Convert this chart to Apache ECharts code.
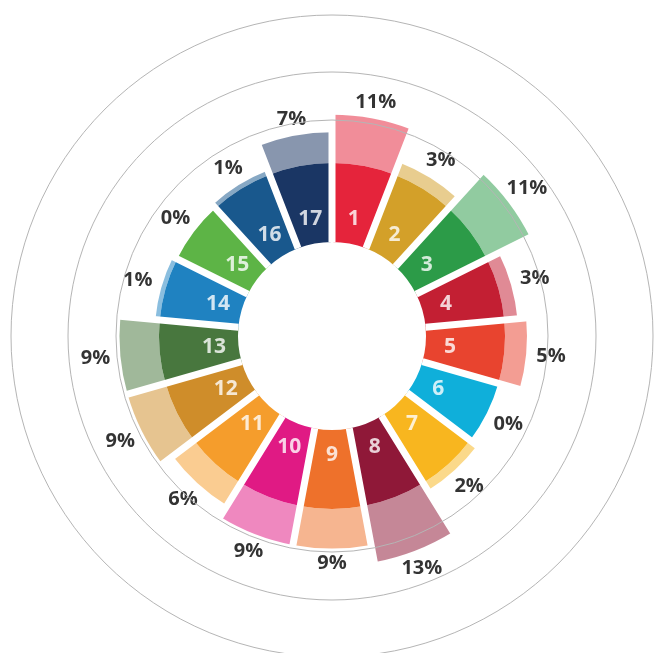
<!DOCTYPE html>
<html>
<head>
<meta charset="utf-8">
<script src="https://cdn.jsdelivr.net/npm/echarts@6/dist/echarts.min.js"></script>
<style>
    html, body { margin: 0; padding: 0; background: #fff; }
    #main { width: 660px; height: 653px; }
</style>
</head>
<body>
<div id="main"></div>
<script>
    // SDG goals, clockwise from 12 o'clock
    var goals = ['1', '2', '3', '4', '5', '6', '7', '8', '9', '10', '11', '12', '13', '14', '15', '16', '17'];
    // share per goal (%)
    var shares = [11, 3, 11, 3, 5, 0, 2, 13, 9, 9, 6, 9, 9, 1, 0, 1, 7];
    var goalColors = ['#E5243B', '#D3A029', '#2C9B48', '#C31F33', '#E8442F', '#0FAFDA', '#F8B61F', '#8F1838',
        '#EE712B', '#E01A84', '#F59D2C', '#CF8D2A', '#48773E', '#1F82C1', '#5DB446', '#19588D', '#1A3664'];

    // layout of the ring
    var cx = 332, cy = 336, innerR = 94, pxPerUnit = 4.39;
    var ringBase = 18;      // solid ring thickness, axis units
    var radiusMax = 40;
    var ringCircles = [216, 264, 321];

    var step = 360 / goals.length;

    // label points, placed through the polar scale
    var numberPoints = goals.map(function (g) { return [5.6, g]; });
    var sharePoints = goals.map(function (g, i) {
        var a = (i + 0.5) * step * Math.PI / 180;
        var gap = (15 + 10 * Math.abs(Math.sin(a))) / pxPerUnit;
        return { value: [ringBase + shares[i] + gap, g], share: shares[i] };
    });

    var myChart = echarts.init(document.getElementById('main'));
    myChart.setOption({
        animation: false,
        backgroundColor: '#fff',
        polar: {
            center: [cx, cy],
            radius: [innerR, innerR + radiusMax * pxPerUnit]
        },
        angleAxis: {
            type: 'category',
            data: goals,
            startAngle: 90,
            clockwise: true,
            z: 10,
            axisLine: { show: false },
            axisTick: { show: false, interval: 0 },
            axisLabel: { show: false, interval: 0 },
            splitLine: { show: true, interval: 0, lineStyle: { color: '#fff', width: 7 } }
        },
        radiusAxis: {
            type: 'value',
            min: 0,
            max: radiusMax,
            axisLine: { show: false },
            axisTick: { show: false },
            axisLabel: { show: false },
            splitLine: { show: false }
        },
        graphic: ringCircles.map(function (r) {
            return {
                type: 'circle',
                z: 100,
                silent: true,
                shape: { cx: cx, cy: cy, r: r },
                style: { fill: 'none', stroke: '#b5b5b5', lineWidth: 1 }
            };
        }),
        series: [
            {
                name: 'ring',
                type: 'bar',
                coordinateSystem: 'polar',
                stack: 'goal',
                barCategoryGap: '0%',
                data: goals.map(function (g, i) {
                    return { value: ringBase, itemStyle: { color: goalColors[i] } };
                })
            },
            {
                name: 'share',
                type: 'bar',
                coordinateSystem: 'polar',
                stack: 'goal',
                barCategoryGap: '0%',
                data: shares.map(function (v, i) {
                    return { value: v, itemStyle: { color: goalColors[i], opacity: 0.52 } };
                })
            },
            {
                name: 'numbers',
                type: 'scatter',
                coordinateSystem: 'polar',
                symbolSize: 1,
                itemStyle: { color: 'rgba(0,0,0,0)' },
                label: {
                    show: true,
                    position: 'inside',
                    formatter: function (p) { return p.value[1]; },
                    color: '#fff',
                    fontFamily: 'Open Sans',
                    fontWeight: 700,
                    fontSize: 21
                },
                z: 12,
                data: numberPoints
            },
            {
                name: 'labels',
                type: 'scatter',
                coordinateSystem: 'polar',
                symbolSize: 1,
                itemStyle: { color: 'rgba(0,0,0,0)' },
                label: {
                    show: true,
                    position: 'inside',
                    formatter: function (p) { return p.data.share + '%'; },
                    color: '#000',
                    fontFamily: 'Open Sans',
                    fontWeight: 700,
                    fontSize: 20
                },
                z: 12,
                data: sharePoints
            }
        ]
    });
</script>
</body>
</html>
